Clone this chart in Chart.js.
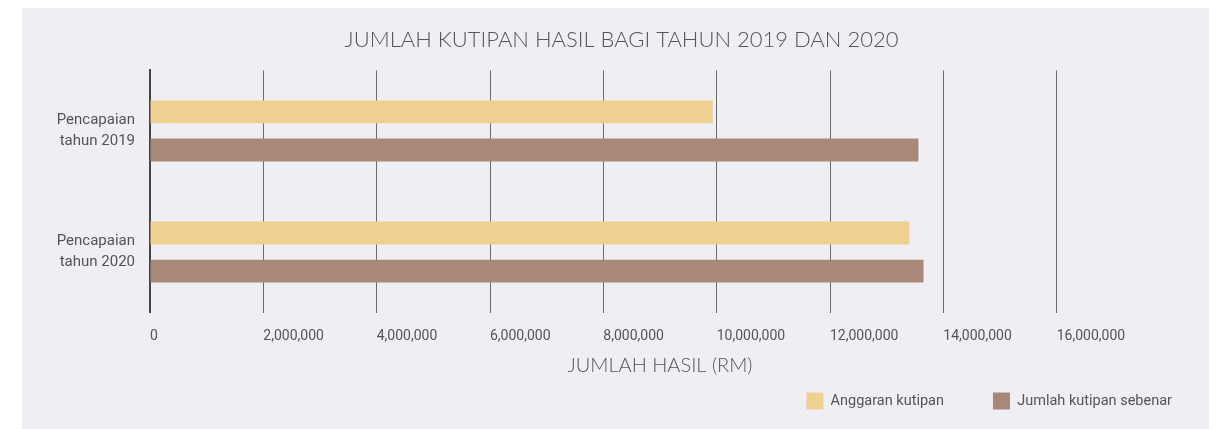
<!DOCTYPE html>
<html>
<head>
<meta charset="utf-8">
<script src="https://cdn.jsdelivr.net/npm/chart.js@4/dist/chart.umd.min.js"></script>
<style>
  html, body { margin: 0; padding: 0; background: #ffffff; }
  #panel { position: absolute; left: 22px; top: 8px; width: 1187px; height: 421px; background: #efeef3; }
  #wrap { position: absolute; left: 0; top: 0; width: 1222px; height: 429px; }
</style>
</head>
<body>
<div id="panel"></div>
<div id="wrap"><canvas id="hasilChart"></canvas></div>
<script>
const kategori = [['Pencapaian', 'tahun 2019'], ['Pencapaian', 'tahun 2020']];
const anggaranKutipan = [9930000, 13400000];
const jumlahKutipanSebenar = [13560000, 13650000];
const tickMax = 16000000;

const fontSempit = "Roboto, 'Noto Sans', sans-serif";
const fontTajuk = "Lato, Roboto, 'Open Sans', sans-serif";

const ctx = document.getElementById('hasilChart').getContext('2d');
new Chart(ctx, {
    type: 'bar',
    data: {
        labels: kategori,
        datasets: [{
            label: 'Anggaran kutipan',
            data: anggaranKutipan,
            backgroundColor: '#eed190',
            categoryPercentage: 0.63,
            barPercentage: 0.6
        }, {
            label: 'Jumlah kutipan sebenar',
            data: jumlahKutipanSebenar,
            backgroundColor: '#a88978',
            categoryPercentage: 0.63,
            barPercentage: 0.6
        }]
    },
    options: {
        indexAxis: 'y',
        responsive: true,
        maintainAspectRatio: false,
        animation: false,
        layout: { padding: { left: 22, right: 1, top: 8, bottom: 9.5 } },
        plugins: {
            title: {
                display: true,
                text: 'JUMLAH KUTIPAN HASIL BAGI TAHUN 2019 DAN 2020',
                color: '#555555',
                font: { family: fontTajuk, size: 22, weight: '300' },
                padding: { top: 19, bottom: 17 }
            },
            legend: {
                position: 'bottom',
                align: 'end',
                labels: {
                    color: '#555555',
                    font: { family: fontSempit, size: 14.5 },
                    boxWidth: 17,
                    boxHeight: 17,
                    padding: 49
                }
            },
            tooltip: { enabled: false }
        },
        scales: {
            x: {
                min: 0,
                max: 18000000,
                ticks: {
                    stepSize: 2000000,
                    align: 'start',
                    padding: 15,
                    color: '#555555',
                    font: { family: fontSempit, size: 14 },
                    callback: function (value) {
                        if (value > tickMax) return '';
                        return value.toLocaleString('en-US');
                    }
                },
                grid: {
                    drawTicks: false,
                    lineWidth: 1,
                    color: function (c) {
                        if (c.tick && c.tick.value > tickMax) return 'rgba(0,0,0,0)';
                        return '#6a6a6a';
                    }
                },
                border: { display: false },
                title: {
                    display: true,
                    text: 'JUMLAH HASIL (RM)',
                    color: '#555555',
                    font: { family: fontTajuk, size: 20, weight: '300' },
                    padding: { top: -5.4, bottom: -34.5 }
                }
            },
            y: {
                ticks: {
                    color: '#555555',
                    font: { family: fontSempit, size: 15, lineHeight: 1.4 },
                    padding: 7
                },
                grid: { display: false },
                border: { display: true, color: '#444444', width: 2 },
                afterFit: function (scale) { scale.width = 128; }
            },
            kanan: {
                type: 'linear',
                position: 'right',
                ticks: { display: false },
                grid: { display: false },
                border: { display: false },
                afterFit: function (scale) { scale.width = 51; }
            }
        }
    }
});
</script>
</body>
</html>
